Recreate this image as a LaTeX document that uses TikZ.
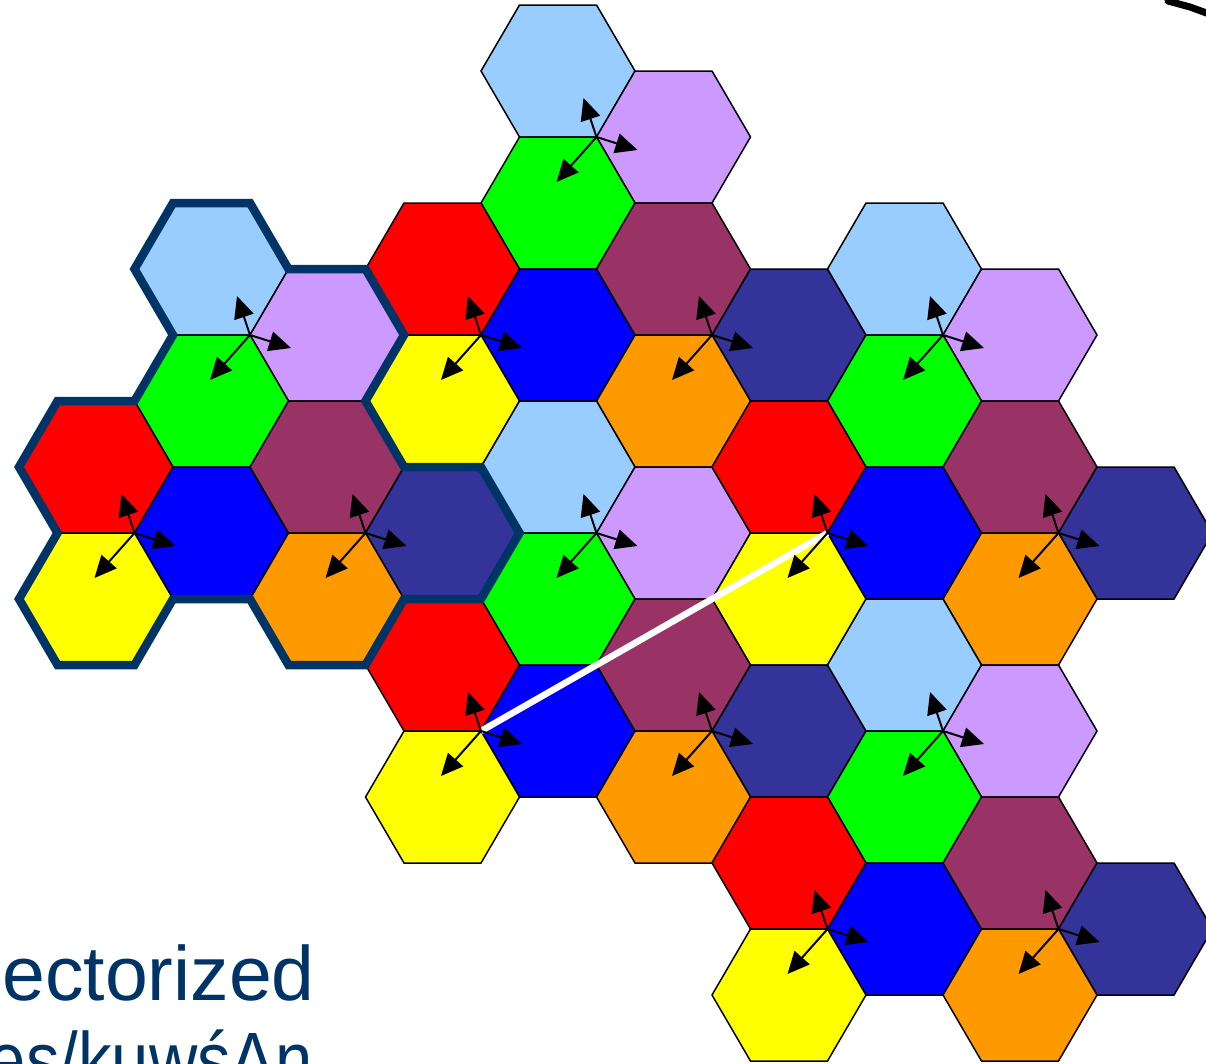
\documentclass[tikz,border=0pt]{standalone}
\usepackage{fontspec}
\setmainfont{Liberation Sans}
\usetikzlibrary{arrows.meta}

% cell colours, one triple per site type
\definecolor{cella1}{HTML}{99CCFF}
\definecolor{cella2}{HTML}{CC99FF}
\definecolor{cella3}{HTML}{00FF00}
\definecolor{cellb1}{HTML}{FF0000}
\definecolor{cellb2}{HTML}{0000FF}
\definecolor{cellb3}{HTML}{FFFF00}
\definecolor{cellc1}{HTML}{993366}
\definecolor{cellc2}{HTML}{333399}
\definecolor{cellc3}{HTML}{FF9900}
\definecolor{clusterblue}{HTML}{003366}

\tikzset{
  cell/.style={draw=black, line width=1.5pt, line join=miter},
  sector/.style={line width=2pt, -{Triangle[length=22pt,width=20pt]}},
  clusterline/.style={draw=clusterblue, line width=8.5pt, line join=miter},
  reuse/.style={draw=white, line width=6.5pt},
  caption/.style={anchor=base east, inner sep=0pt, text=clusterblue,
    font=\fontsize{77}{86}\selectfont},
}

% hexagon: column, half-row, colour
\newcommand{\hexcell}[3]{%
  \pgfmathsetmacro{\hx}{96+115.5*(#1)}%
  \pgfmathsetmacro{\hy}{5+66*(#2)}%
  \filldraw[cell, fill=#3] (\hx-77,\hy) -- ++(38.5,-66) -- ++(77,0)
    -- ++(38.5,66) -- ++(-38.5,66) -- ++(-77,0) -- cycle;
}

\begin{document}
\begin{tikzpicture}[x=1pt, y=-1pt]
  \useasboundingbox (0,0) rectangle (1206,1063);
  \clip (0,0) rectangle (1206,1063);
  \fill[white] (0,0) rectangle (1206,1063);
  % three cells round each site
  \foreach \i/\r/\k [count=\n] in {4/1/a, 1/4/a, 3/4/b, 5/4/c, 7/4/a,
      0/7/b, 2/7/c, 4/7/a, 6/7/b, 8/7/c, 3/10/b, 5/10/c, 7/10/a,
      6/13/b, 8/13/c}{
    \hexcell{\i}{\r}{cell\k1}
    \hexcell{\i+1}{\r+1}{cell\k2}
    \hexcell{\i}{\r+2}{cell\k3}
    \coordinate (s\n) at ({96+115.5*\i+38.5},{5+66*\r+66});
  }
  % reuse distance
  \draw[reuse] (s11) -- (s9);
  % sector antennas
  \foreach \n in {1,...,15}{
    \draw[sector] (s\n) -- ++(-13,-39);
    \draw[sector] (s\n) -- ++(41,13);
    \draw[sector] (s\n) -- ++(-40,45);
  }
  % cluster border
  \draw[clusterline] (134.5,269) -- (173,203) -- (250,203) -- (288.5,269)
    -- (365.5,269) -- (404,335) -- (365.5,401) -- (404,467) -- (481,467)
    -- (519.5,533) -- (481,599) -- (404,599) -- (365.5,665) -- (288.5,665)
    -- (250,599) -- (173,599) -- (134.5,665) -- (57.5,665) -- (19,599)
    -- (57.5,533) -- (19,467) -- (57.5,401) -- (134.5,401) -- (173,335)
    -- cycle;
  % labels
  \node[caption] (title) at (315,1000) {Sectorized};
  \node[caption, xscale=0.87] (subtitle) at (313,1086) {es/kuwśAn};
  % pen stroke in the corner
  \draw[line width=7pt, line cap=round] (1168,1) -- (1190,7) -- (1212,15);
\end{tikzpicture}
\end{document}
